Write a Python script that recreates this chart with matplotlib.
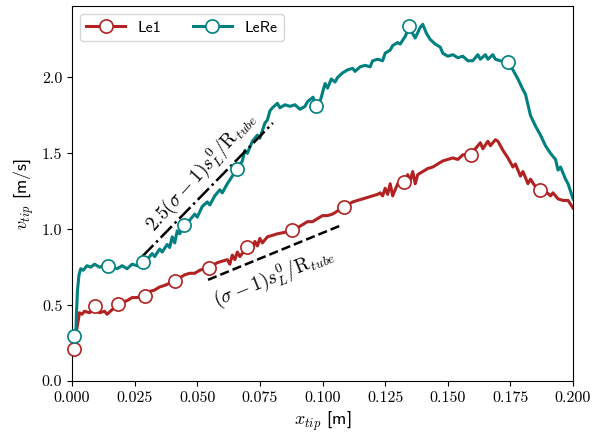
import matplotlib

matplotlib.use("Agg")
import matplotlib.pyplot as plt
from matplotlib.lines import Line2D

plt.rcParams["font.family"] = "serif"
plt.rcParams["font.serif"] = ["cmr10"]
plt.rcParams["mathtext.fontset"] = "cm"
plt.rcParams["axes.formatter.use_mathtext"] = True

# LeRe tip velocity
lere_x = [0.0015, 0.0018, 0.0022, 0.0028, 0.0035, 0.0045, 0.006, 0.0075, 0.009, 0.011,
          0.0125, 0.014, 0.016, 0.018, 0.020, 0.022, 0.024, 0.026, 0.028, 0.030,
          0.032, 0.033, 0.035, 0.036, 0.038, 0.039, 0.040, 0.041, 0.042, 0.043,
          0.045, 0.047, 0.049, 0.050, 0.052, 0.054, 0.055, 0.057, 0.059, 0.060,
          0.062, 0.064, 0.066, 0.068, 0.069, 0.070, 0.072, 0.074, 0.075, 0.077,
          0.078, 0.079, 0.080, 0.082, 0.083, 0.085, 0.087, 0.089, 0.091, 0.093,
          0.094, 0.0962, 0.0975, 0.099, 0.100, 0.101, 0.102, 0.1035, 0.105, 0.106,
          0.108, 0.110, 0.112, 0.113, 0.115, 0.117, 0.119, 0.120, 0.122, 0.124,
          0.125, 0.127, 0.128, 0.130, 0.131, 0.133, 0.1345, 0.137, 0.139, 0.140,
          0.1415, 0.143, 0.145, 0.147, 0.148, 0.150, 0.152, 0.154, 0.156, 0.158,
          0.160, 0.162, 0.163, 0.165, 0.166, 0.168, 0.169, 0.171, 0.174, 0.176,
          0.178, 0.180, 0.181, 0.183, 0.185, 0.187, 0.189, 0.191, 0.192, 0.193,
          0.194, 0.195, 0.197, 0.198, 0.200]
lere_v = [0.30, 0.45, 0.60, 0.70, 0.74, 0.73, 0.76, 0.75, 0.77, 0.75,
          0.76, 0.76, 0.75, 0.74, 0.76, 0.74, 0.77, 0.76, 0.79, 0.80,
          0.84, 0.82, 0.87, 0.85, 0.90, 0.88, 0.95, 0.91, 0.99, 0.97,
          1.03, 1.06, 1.10, 1.08, 1.15, 1.18, 1.16, 1.22, 1.26, 1.24,
          1.30, 1.35, 1.40, 1.45, 1.52, 1.50, 1.58, 1.62, 1.60, 1.70,
          1.72, 1.78, 1.80, 1.83, 1.80, 1.82, 1.81, 1.82, 1.79, 1.81,
          1.84, 1.87, 1.81, 1.84, 1.90, 1.96, 1.93, 1.99, 1.97, 2.00,
          2.03, 2.05, 2.06, 2.04, 2.07, 2.08, 2.07, 2.11, 2.12, 2.11,
          2.16, 2.18, 2.21, 2.23, 2.22, 2.27, 2.33, 2.26, 2.33, 2.35,
          2.29, 2.25, 2.22, 2.20, 2.16, 2.14, 2.15, 2.13, 2.14, 2.11,
          2.11, 2.15, 2.12, 2.15, 2.12, 2.15, 2.12, 2.11, 2.10, 2.05,
          1.99, 1.92, 1.89, 1.75, 1.68, 1.62, 1.55, 1.50, 1.48, 1.46,
          1.39, 1.41, 1.33, 1.30, 1.20]

# Le1 tip velocity
le1_x = [0.0015, 0.002, 0.003, 0.004, 0.005, 0.007, 0.0092, 0.011, 0.013, 0.014,
         0.016, 0.0185, 0.020, 0.022, 0.024, 0.026, 0.029, 0.031, 0.033, 0.035,
         0.037, 0.041, 0.043, 0.045, 0.047, 0.049, 0.051, 0.0547, 0.056, 0.058,
         0.060, 0.062, 0.063, 0.064, 0.065, 0.066, 0.067, 0.070, 0.072, 0.073,
         0.074, 0.075, 0.076, 0.078, 0.080, 0.082, 0.085, 0.088, 0.090, 0.092,
         0.094, 0.096, 0.098, 0.100, 0.102, 0.104, 0.106, 0.1086, 0.110, 0.112,
         0.114, 0.116, 0.118, 0.120, 0.122, 0.123, 0.124, 0.125, 0.126, 0.127,
         0.128, 0.130, 0.1325, 0.134, 0.135, 0.136, 0.137, 0.138, 0.140, 0.142,
         0.144, 0.146, 0.148, 0.150, 0.152, 0.154, 0.156, 0.1593, 0.161, 0.163,
         0.164, 0.166, 0.167, 0.169, 0.170, 0.172, 0.174, 0.176, 0.177, 0.179,
         0.180, 0.182, 0.183, 0.185, 0.1868, 0.189, 0.191, 0.192, 0.194, 0.196,
         0.198, 0.200]
le1_v = [0.30, 0.35, 0.45, 0.44, 0.46, 0.45, 0.48, 0.45, 0.46, 0.44,
         0.47, 0.51, 0.52, 0.53, 0.55, 0.55, 0.57, 0.59, 0.60, 0.62,
         0.63, 0.66, 0.68, 0.70, 0.71, 0.71, 0.73, 0.75, 0.76, 0.78,
         0.79, 0.80, 0.77, 0.83, 0.80, 0.85, 0.82, 0.885, 0.87, 0.92,
         0.89, 0.94, 0.91, 0.95, 0.96, 0.97, 0.98, 1.00, 1.01, 1.03,
         1.05, 1.05, 1.07, 1.09, 1.09, 1.10, 1.12, 1.15, 1.16, 1.18,
         1.19, 1.20, 1.21, 1.22, 1.23, 1.24, 1.22, 1.27, 1.23, 1.30,
         1.22, 1.30, 1.31, 1.36, 1.32, 1.38, 1.30, 1.36, 1.38, 1.40,
         1.41, 1.43, 1.45, 1.46, 1.47, 1.46, 1.49, 1.50, 1.53, 1.57,
         1.53, 1.58, 1.55, 1.59, 1.58, 1.52, 1.47, 1.41, 1.43, 1.35,
         1.38, 1.30, 1.33, 1.28, 1.26, 1.25, 1.22, 1.24, 1.20, 1.19,
         1.19, 1.14]

# sparse markers along each curve
lere_mx = [0.001, 0.0144, 0.0283, 0.0447, 0.0659, 0.0974, 0.1345, 0.174]
lere_mv = [0.30, 0.76, 0.785, 1.03, 1.40, 1.81, 2.34, 2.10]
le1_mx = [0.001, 0.0092, 0.0184, 0.0291, 0.0411, 0.0547, 0.0699, 0.0878, 0.1086, 0.1325, 0.1593, 0.1868]
le1_mv = [0.21, 0.495, 0.508, 0.561, 0.66, 0.746, 0.884, 0.997, 1.149, 1.314, 1.492, 1.261]

# reference slopes
dashdot_x = [0.028, 0.0802]
dashdot_y = [0.82, 1.70]
dashed_x = [0.0543, 0.108]
dashed_y = [0.667, 1.03]

red = "#b22222"
teal = "#008080"

fig = plt.figure(figsize=(5.92, 4.37), dpi=100)
ax = fig.add_axes([0.1216, 0.128, 0.8464, 0.858])

ax.plot(le1_x, le1_v, color=red, lw=2.2)
ax.plot(lere_x, lere_v, color=teal, lw=2.2)
ax.plot(le1_mx, le1_mv, ls="none", marker="o", ms=9.5, mfc="white", mec=red, mew=1.2, clip_on=False, zorder=4)
ax.plot(lere_mx, lere_mv, ls="none", marker="o", ms=9.5, mfc="white", mec=teal, mew=1.2, clip_on=False, zorder=4)

ax.plot(dashdot_x, dashdot_y, color="black", ls="-.", lw=1.8, zorder=3)
ax.plot(dashed_x, dashed_y, color="black", ls="--", lw=1.8, zorder=3)

ax.text(0.0515, 1.38, r"$2.5(\sigma-1)s_L^0/\mathrm{R}_{tube}$", rotation=48,
        fontsize=14, ha="center", va="center")
ax.text(0.0805, 0.685, r"$(\sigma-1)s_L^0/\mathrm{R}_{tube}$", rotation=22,
        fontsize=14, ha="center", va="center")

ax.set_xlim(0, 0.2)
ax.set_ylim(0, 2.47)
ax.set_xticks([0.0, 0.025, 0.05, 0.075, 0.1, 0.125, 0.15, 0.175, 0.2])
ax.set_xticklabels(["0.000", "0.025", "0.050", "0.075", "0.100", "0.125", "0.150", "0.175", "0.200"])
ax.set_yticks([0.0, 0.5, 1.0, 1.5, 2.0])
ax.set_yticklabels(["0.0", "0.5", "1.0", "1.5", "2.0"])
ax.tick_params(labelsize=11.5)

ax.set_xlabel(r"$x_{tip}$ [m]", fontsize=13, family="cmss10")
ax.set_ylabel(r"$v_{tip}$ [m/s]", fontsize=13, family="cmss10")

handles = [
    Line2D([], [], color=red, lw=2.2, marker="o", ms=9.5, mfc="white", mec=red, mew=1.2),
    Line2D([], [], color=teal, lw=2.2, marker="o", ms=9.5, mfc="white", mec=teal, mew=1.2),
]
ax.legend(handles, ["Le1", "LeRe"], loc="upper left", ncol=2, prop={"family": "cmss10", "size": 11.5},
          handlelength=2.4, columnspacing=2.0)

fig.savefig("out.png", dpi=100)
